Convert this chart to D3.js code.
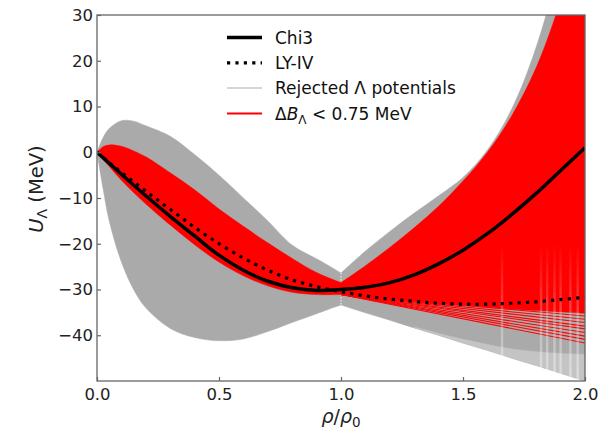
<!DOCTYPE html>
<html><head><meta charset="utf-8">
<script src="https://cdn.jsdelivr.net/npm/d3@7/dist/d3.min.js"></script>
<style>body{margin:0;background:#fff;} svg{display:block;font-family:"DejaVu Sans",sans-serif;}</style>
</head><body><svg id="c" width="610" height="431"></svg>
<script>
// ---- data ----
const xTicks = [0, 0.5, 1.0, 1.5, 2.0];
const yTicks = [-40, -30, -20, -10, 0, 10, 20, 30];

// rejected (gray) envelope, left of rho0
const grayLeftX     = [0, 0.025, 0.05, 0.1, 0.15, 0.2, 0.3, 0.4, 0.5, 0.6, 0.7, 0.8, 0.9, 0.95, 1.0];
const grayLeftUpper = [0, 3.2, 5.2, 6.9, 6.8, 5.8, 3.5, -0.5, -5, -10, -15, -20.3, -23.3, -24.8, -26.4];
const grayLeftLower = [0, -8, -15, -24, -30, -34, -38.5, -40.5, -41.2, -40.8, -39.2, -37.2, -35.3, -34.3, -33.4];
// rejected envelope, right of rho0
const grayRightX     = [1.0, 1.1, 1.2, 1.3, 1.4, 1.5, 1.6, 1.7, 1.8, 1.9, 2.0];
const grayRightUpper = [-26.4, -21.6, -17.3, -13.3, -9.5, -5.5, 0.5, 9.5, 23, 42, 65];
const grayRightLower = [-33.4, -35.1, -36.7, -38.4, -40, -41.7, -43.3, -45, -46.6, -48.3, -50];
// lighter, streaky part of the rejected band near the bottom right
const grayFadeX   = [1.3, 1.4, 1.5, 1.6, 1.7, 1.8, 1.9, 2.0];
const grayFadeTop = [-38.2, -39.6, -40.9, -42.0, -43.0, -43.6, -44.0, -44.2];

// accepted (red) envelope
const redLeftX     = [0, 0.025, 0.05, 0.1, 0.15, 0.2, 0.3, 0.4, 0.5, 0.6, 0.7, 0.8, 0.9, 1.0];
const redLeftUpper = [0, 1.2, 1.6, 1.3, 0.3, -1, -4.5, -8.2, -12.4, -16.2, -19.8, -23.2, -26.3, -28.5];
const redLeftLower = [0, -1.6, -3.1, -6.1, -8.8, -11.3, -15.9, -20.2, -24, -27, -29.2, -30.6, -31.1, -31.1];
const redRightX     = [1.0, 1.1, 1.2, 1.3, 1.4, 1.5, 1.6, 1.7, 1.8, 1.9, 2.0];
const redRightUpper = [-28.5, -24.8, -20.8, -16.5, -11.8, -6.3, 0, 8, 18.5, 33, 50];
const redRightLower = [-31.1, -31.6, -32.1, -32.6, -33.1, -33.5, -33.9, -34.3, -34.6, -34.9, -35.2];
// individual accepted potentials fanning below the band (value at rho/rho0 = 2)
const redFanEnds = [-35.8, -36.5, -37.2, -38.0, -38.6, -39.4, -40.2, -40.9, -41.7];
const redFanStart = [1.0, -31.1];
// pale vertical streaks inside the band at high density
const streakX = [1.66, 1.82, 1.845, 1.875, 1.9, 1.94, 1.97];

// reference potentials
const curveX = [0, 0.05, 0.1, 0.2, 0.3, 0.4, 0.5, 0.6, 0.7, 0.8, 0.9, 1.0, 1.1, 1.2, 1.3, 1.4, 1.5, 1.6, 1.7, 1.8, 1.9, 2.0];
const chi3   = [0, -2.4, -4.8, -9.5, -14, -18.3, -22.5, -25.8, -28.2, -29.6, -30.2, -30, -29.5, -28.5, -26.8, -24.4, -21.4, -17.8, -13.6, -9, -4, 1];
const lyIV   = [0, -2.3, -4.4, -8.5, -12.5, -16.4, -20, -23.1, -25.8, -27.9, -29.4, -30.5, -31.4, -32.1, -32.6, -33, -33.2, -33.2, -33, -32.7, -32.2, -31.7];

const legendItems = ["Chi3", "LY-IV", "Rejected \u039b potentials", "dB"];

// ---- layout ----
const svg = d3.select("#c");
const L = 97, R = 585, T = 15, B = 381;
const x = d3.scaleLinear().domain([0, 2]).range([L, R]);
const y = d3.scaleLinear().domain([-50, 30]).range([B, T]);

const defs = svg.append("defs");
defs.append("clipPath").attr("id", "clip")
  .append("rect").attr("x", L).attr("y", T).attr("width", R - L).attr("height", B - T);
const grad = defs.append("linearGradient").attr("id", "streak").attr("gradientUnits", "userSpaceOnUse")
  .attr("x1", 0).attr("x2", 0).attr("y1", y(-20)).attr("y2", y(-50));
grad.append("stop").attr("offset", 0).attr("stop-color", "#fff").attr("stop-opacity", 0);
grad.append("stop").attr("offset", 0.5).attr("stop-color", "#fff").attr("stop-opacity", 0.25);
grad.append("stop").attr("offset", 1).attr("stop-color", "#fff").attr("stop-opacity", 0.4);
const g = svg.append("g").attr("clip-path", "url(#clip)");

function band(xs, up, lo, color, curve) {
  const d = xs.map((v, i) => ({x: v, u: up[i], l: lo[i]}));
  const a = d3.area().x(p => x(p.x)).y0(p => y(p.l)).y1(p => y(p.u)).curve(curve || d3.curveCatmullRom);
  g.append("path").datum(d).attr("d", a).attr("fill", color).attr("stroke", color).attr("stroke-width", 0.5);
}
const GRAY = "#aaaaaa", RED = "#ff0000";
band(grayLeftX, grayLeftUpper, grayLeftLower, GRAY);
band(grayRightX, grayRightUpper, grayRightLower, GRAY);
const fadeLower = grayFadeX.map(v => grayRightLower[grayRightX.indexOf(v)]);
band(grayFadeX, grayFadeTop, fadeLower, "#c4c4c4");
// white seam of the pinch at rho0
g.append("line").attr("x1", x(1)).attr("x2", x(1))
  .attr("y1", y(grayLeftUpper[grayLeftUpper.length - 1])).attr("y2", y(grayLeftLower[grayLeftLower.length - 1]))
  .attr("stroke", "#fff").attr("stroke-width", 1.2).attr("stroke-dasharray", "1.5,1.5").attr("opacity", 0.8);

band(redLeftX, redLeftUpper, redLeftLower, RED);
band(redRightX, redRightUpper, redRightLower, RED);

// fan of red lines
redFanEnds.forEach(v => {
  g.append("line").attr("x1", x(redFanStart[0])).attr("y1", y(redFanStart[1]))
    .attr("x2", x(2)).attr("y2", y(v)).attr("stroke", RED).attr("stroke-width", 1.1);
});
// pale streaks (fading in from above)
streakX.forEach(v => {
  g.append("rect").attr("x", x(v) - 1.2).attr("width", 2.4).attr("y", y(-20)).attr("height", y(-50) - y(-20))
    .attr("fill", "url(#streak)");
});

// reference curves
const line = d3.line().x((d, i) => x(curveX[i])).y(d => y(d)).curve(d3.curveCatmullRom);
g.append("path").datum(chi3).attr("d", line).attr("fill", "none").attr("stroke", "#000").attr("stroke-width", 3.5);
g.append("path").datum(lyIV).attr("d", line).attr("fill", "none").attr("stroke", "#000")
  .attr("stroke-width", 3.2).attr("stroke-dasharray", "3.2,5.2");

// ---- axes ----
const axCol = "#666";
const xAxis = d3.axisBottom(x).tickValues(xTicks).tickSizeInner(-4).tickSizeOuter(0).tickPadding(7)
  .tickFormat(d3.format(".1f"));
const yAxis = d3.axisLeft(y).tickValues(yTicks).tickSizeInner(-4).tickSizeOuter(0).tickPadding(4)
  .tickFormat(d => d < 0 ? "\u2212" + Math.abs(d) : String(d));
const gx = svg.append("g").attr("transform", `translate(0,${B})`).call(xAxis);
const gy = svg.append("g").attr("transform", `translate(${L},0)`).call(yAxis);
[gx, gy].forEach(a => {
  a.select(".domain").remove();
  a.selectAll(".tick line").attr("stroke", axCol).attr("stroke-width", 1.2);
  a.selectAll(".tick text").attr("fill", "#222").style("font-size", "16.5px").style("font-family", "DejaVu Sans");
});
// frame
svg.append("rect").attr("x", L).attr("y", T).attr("width", R - L).attr("height", B - T)
  .attr("fill", "none").attr("stroke", axCol).attr("stroke-width", 1.3);

// axis labels
const xl = svg.append("text").attr("x", (L + R) / 2).attr("y", 423).attr("text-anchor", "middle")
  .style("font-size", "19px").attr("fill", "#222");
xl.append("tspan").style("font-style", "italic").text("\u03c1");
xl.append("tspan").text("/");
xl.append("tspan").style("font-style", "italic").text("\u03c1");
xl.append("tspan").attr("dy", 4).style("font-size", "13.5px").text("0");

const yl = svg.append("text").attr("transform", `translate(43,189) rotate(-90)`)
  .attr("text-anchor", "middle").style("font-size", "19.5px").attr("fill", "#222");
yl.append("tspan").style("font-style", "italic").text("U");
yl.append("tspan").attr("dy", 4).style("font-size", "14px").text("\u039b");
yl.append("tspan").attr("dy", -4).text(" (MeV)");

// legend
const lg = svg.append("g");
const ly0 = 37.5, ldy = 25.3, lx0 = 227, lx1 = 262, ltx = 275;
legendItems.forEach((name, i) => {
  const yy = ly0 + i * ldy;
  const ln = lg.append("line").attr("x1", lx0).attr("x2", lx1).attr("y1", yy).attr("y2", yy);
  if (i === 0) ln.attr("stroke", "#000").attr("stroke-width", 3.5);
  if (i === 1) ln.attr("stroke", "#000").attr("stroke-width", 3.2).attr("stroke-dasharray", "3.2,5.2");
  if (i === 2) ln.attr("stroke", "#c8c8c8").attr("stroke-width", 1.5);
  if (i === 3) ln.attr("stroke", RED).attr("stroke-width", 2);
  const t = lg.append("text").attr("x", ltx).attr("y", yy + 6.3).style("font-size", "17px").attr("fill", "#111");
  if (i < 3) t.text(name);
  else {
    t.append("tspan").text("\u0394");
    t.append("tspan").style("font-style", "italic").text("B");
    t.append("tspan").attr("dy", 4).style("font-size", "12px").text("\u039b");
    t.append("tspan").attr("dy", -4).text(" < 0.75 MeV");
  }
});
</script></body></html>
